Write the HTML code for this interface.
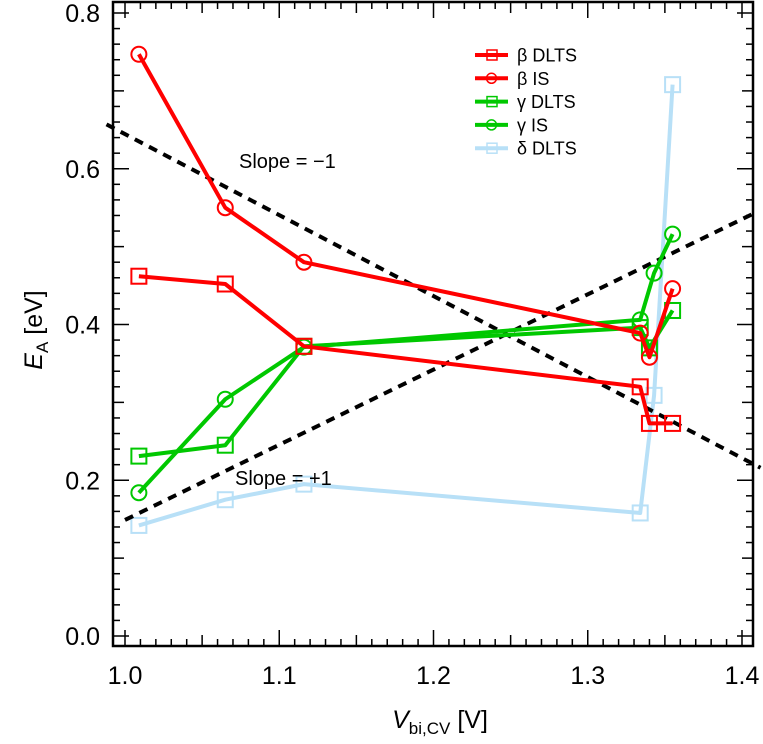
<!DOCTYPE html>
<html><head><meta charset="utf-8"><style>
html,body{margin:0;padding:0;background:#fff}
svg{display:block;font-family:"Liberation Sans",Arial,sans-serif}
</style></head><body>
<svg id="chart" width="763" height="744" viewBox="0 0 763 744">
<g id="ticks"></g>
<g id="series"></g>
<rect x="113" y="2" width="640" height="644" fill="none" stroke="#000" stroke-width="2.5"/>
<text x="239" y="168" font-size="20">Slope = −1</text>
<text x="235" y="485" font-size="20">Slope = +1</text>
<text x="440" y="728" font-size="25" text-anchor="middle"><tspan font-style="italic">V</tspan><tspan font-size="17" dy="6">bi,CV</tspan><tspan dy="-6"> [V]</tspan></text>
<text transform="translate(42,330) rotate(-90)" font-size="25" text-anchor="middle"><tspan font-style="italic">E</tspan><tspan font-size="17" dy="6">A</tspan><tspan dy="-6"> [eV]</tspan></text>
<g id="legend"></g>
</svg>
<script>
const xTicks=[1.0,1.1,1.2,1.3,1.4];
const xTickLabels=["1.0","1.1","1.2","1.3","1.4"];
const yTicks=[0.0,0.2,0.4,0.6,0.8];
const yTickLabels=["0.0","0.2","0.4","0.6","0.8"];
const seriesNames=["β DLTS","β IS","γ DLTS","γ IS","δ DLTS"];
const betaDltsX=[1.009,1.065,1.116,1.334,1.340,1.355];
const betaDltsY=[0.462,0.452,0.372,0.320,0.273,0.273];
const betaIsX=[1.009,1.065,1.116,1.334,1.340,1.355];
const betaIsY=[0.747,0.550,0.480,0.389,0.358,0.446];
const gammaDltsX=[1.009,1.065,1.116,1.334,1.340,1.355];
const gammaDltsY=[0.231,0.245,0.372,0.396,0.370,0.418];
const gammaIsX=[1.009,1.065,1.116,1.334,1.343,1.355];
const gammaIsY=[0.184,0.304,0.371,0.406,0.466,0.516];
const deltaDltsX=[1.009,1.065,1.116,1.334,1.343,1.355];
const deltaDltsY=[0.142,0.175,0.195,0.158,0.309,0.708];
const slopeMinusX=[0.988,1.412];
const slopeMinusY=[0.657,0.216];
const slopePlusX=[1.0,1.408];
const slopePlusY=[0.149,0.543];

const NS="http://www.w3.org/2000/svg";
const X=v=>125+(v-1)*1542.5;
const Y=e=>636-e*778.75;
function mk(tag,attrs,parent){const el=document.createElementNS(NS,tag);for(const k in attrs)el.setAttribute(k,attrs[k]);parent.appendChild(el);return el;}
const tg=document.getElementById('ticks');
for(let i=0;i<=40;i++){const v=1+i*0.01;const x=X(v);const len=i%10==0?16:(i%5==0?11:7);
 const t1=mk('line',{x1:x,x2:x,y1:646,y2:646-len,stroke:'#000','stroke-width':1.5},tg);
 
 
 const t2=mk('line',{x1:x,x2:x,y1:2,y2:2+len,stroke:'#000','stroke-width':1.5},tg);
 
 }
for(let i=0;i<=40;i++){const e=i*0.02;const y=Y(e);const len=i%10==0?16:(i%5==0?11:7);
 const t1=mk('line',{x1:113,x2:113+len,y1:y,y2:y,stroke:'#000','stroke-width':1.5},tg);
 
 
 const t2=mk('line',{x1:753,x2:753-len,y1:y,y2:y,stroke:'#000','stroke-width':1.5},tg);
 
 }
xTicks.forEach((v,i)=>{const t=mk('text',{x:X(v),y:684,'font-size':25,'text-anchor':'middle'},tg);t.textContent=xTickLabels[i];
 
 });
yTicks.forEach((v,i)=>{const t=mk('text',{x:100,y:Y(v)+9,'font-size':25,'text-anchor':'end'},tg);t.textContent=yTickLabels[i];
 
 });

const sg=document.getElementById('series');
function dashed(xs,ys,name){const l=mk('line',{x1:X(xs[0]),y1:Y(ys[0]),x2:X(xs[1]),y2:Y(ys[1]),stroke:'#000','stroke-width':4,'stroke-dasharray':'9 7'},sg);
 
 }
function series(xs,ys,color,marker,name){const g=mk('g',{},sg);
 
 
 mk('polyline',{points:xs.map((x,i)=>X(x)+','+Y(ys[i])).join(' '),fill:'none',stroke:color,'stroke-width':4,'stroke-linejoin':'round'},g);
 xs.forEach((x,i)=>{let m;if(marker=='sq')m=mk('rect',{x:X(x)-7.5,y:Y(ys[i])-7.5,width:15,height:15,fill:'none',stroke:color,'stroke-width':2},g);
  else m=mk('circle',{cx:X(x),cy:Y(ys[i]),r:7.5,fill:'none',stroke:color,'stroke-width':2},g);
  
  });}
const deltaC='#b8e0f7',red='#ff0000',green='#00c800';
series(deltaDltsX,deltaDltsY,deltaC,'sq','delta-dlts-series');
dashed(slopeMinusX,slopeMinusY,'slope-minus-one-line');
dashed(slopePlusX,slopePlusY,'slope-plus-one-line');
series(gammaDltsX,gammaDltsY,green,'sq','gamma-dlts-series');
series(gammaIsX,gammaIsY,green,'ci','gamma-is-series');
series(betaDltsX,betaDltsY,red,'sq','beta-dlts-series');
series(betaIsX,betaIsY,red,'ci','beta-is-series');

const lg=document.getElementById('legend');
const legColors=[red,red,green,green,deltaC];
const legMarks=['sq','ci','sq','ci','sq'];
seriesNames.forEach((n,i)=>{const y=55+i*23.3;const g=mk('g',{},lg);
 
 
 mk('line',{x1:475,x2:508,y1:y,y2:y,stroke:legColors[i],'stroke-width':4},g);
 if(legMarks[i]=='sq')mk('rect',{x:487,y:y-5,width:10,height:10,fill:'none',stroke:legColors[i],'stroke-width':1.5},g);
 else mk('circle',{cx:491.5,cy:y,r:5,fill:'none',stroke:legColors[i],'stroke-width':1.5},g);
 const t=mk('text',{x:517,y:y+6.5,'font-size':18},g);t.textContent=n;});
</script>
</body></html>
